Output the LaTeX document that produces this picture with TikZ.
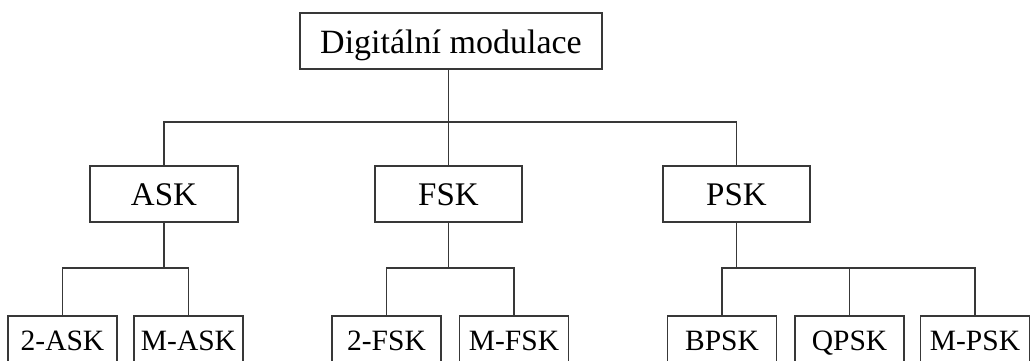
\documentclass[tikz,border=0pt]{standalone}
\usepackage{fontspec}
\setmainfont{Liberation Serif}
\begin{document}
\begin{tikzpicture}[x=1pt,y=-1pt,
  line/.style={draw=black!78,line width=1.6pt},
  box/.style={line,rectangle,inner xsep=0pt,inner ysep=0pt,anchor=base,text=black},
  bigbox/.style={box,text height=39pt,text depth=17pt,font=\fontsize{33}{36}\selectfont},
  leaf/.style={box,minimum width=109pt,text height=34pt,text depth=22pt,font=\fontsize{29.5}{32}\selectfont}]
\clip (0,0) rectangle (1030,361);
\useasboundingbox (0,0) rectangle (1030,361);

% root
\node[bigbox,minimum width=302pt,text height=40pt,text depth=16pt,font=\fontsize{34}{36}\selectfont] (root) at (451,53) {Digitální modulace};

% second level
\node[bigbox,minimum width=148pt] (ask) at (164,205) {ASK};
\node[bigbox,minimum width=147pt] (fsk) at (448.5,205) {FSK};
\node[bigbox,minimum width=147pt] (psk) at (736.5,205) {PSK};

% leaves
\node[leaf] (a2) at (62.5,350) {2-ASK};
\node[leaf] (am) at (188.5,350) {M-ASK};
\node[leaf] (f2) at (386.5,350) {2-FSK};
\node[leaf] (fm) at (514,350) {M-FSK};
\node[leaf] (pb) at (722,350) {BPSK};
\node[leaf] (pq) at (849.5,350) {QPSK};
\node[leaf] (pm) at (975,350) {M-PSK};

% bar levels
\coordinate (rootbar) at (448,122);
\coordinate (leafbar) at (0,268);

% root to second level
\draw[line] (root.south -| fsk.north) -- (fsk.north);
\draw[line] (ask.north) -- (ask.north |- rootbar) -- (psk.north |- rootbar) -- (psk.north);

% ASK branch
\draw[line] (ask.south) -- (ask.south |- leafbar);
\draw[line] (a2.north) -- (a2.north |- leafbar) -- (am.north |- leafbar) -- (am.north);

% FSK branch
\draw[line] (fsk.south) -- (fsk.south |- leafbar);
\draw[line] (f2.north) -- (f2.north |- leafbar) -- (fm.north |- leafbar) -- (fm.north);

% PSK branch
\draw[line] (psk.south) -- (psk.south |- leafbar);
\draw[line] (pb.north) -- (pb.north |- leafbar) -- (pm.north |- leafbar) -- (pm.north);
\draw[line] (pq.north) -- (pq.north |- leafbar);
\end{tikzpicture}
\end{document}
